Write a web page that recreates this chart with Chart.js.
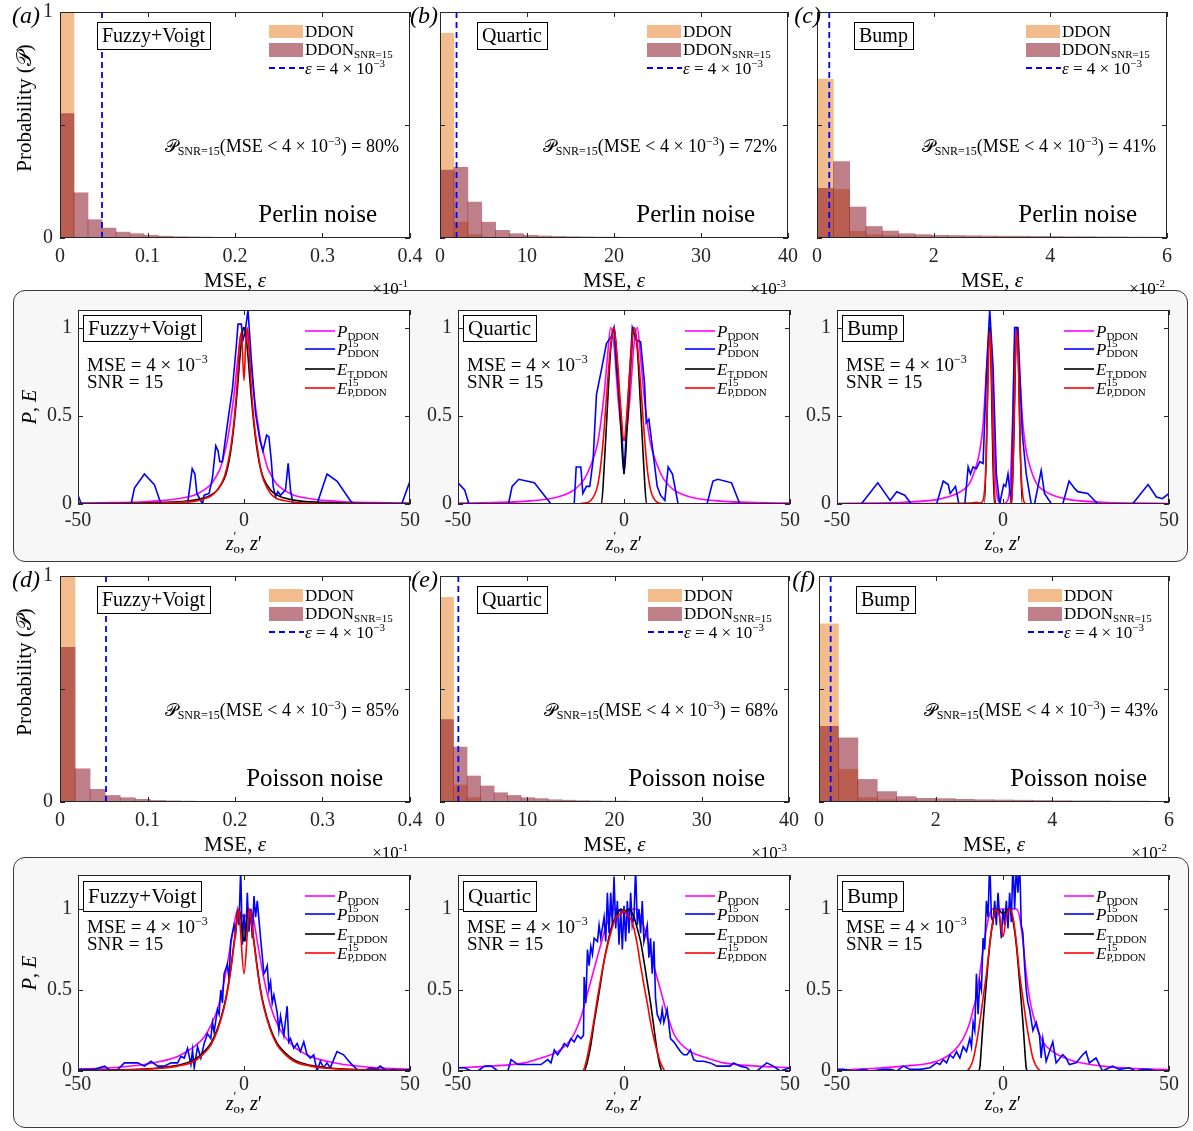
<!DOCTYPE html>
<html>
<head>
<meta charset="utf-8">
<script src="https://cdn.jsdelivr.net/npm/chart.js@4.4.1/dist/chart.umd.min.js"></script>
<style>
  body { margin: 0; background: #fff; width: 1193px; height: 1131px; position: relative; overflow: hidden; }
  canvas { position: absolute; }
  .frame { position: absolute; box-sizing: border-box; background: #f7f7f7; border: 1.5px solid #3a3a3a; border-radius: 12px; }
</style>
</head>
<body>
<div class="frame" style="left:13px;top:290px;width:1175px;height:272px"></div>
<div class="frame" style="left:13px;top:857px;width:1176px;height:271px"></div>
<script>
// ---- histogram data (probability per MSE bin) ----
const aOrange = [1.0, 0, 0, 0, 0, 0, 0, 0, 0, 0, 0, 0, 0, 0, 0, 0, 0, 0, 0, 0, 0, 0, 0, 0, 0];
const aMauve = [0.55, 0.20, 0.081, 0.044, 0.026, 0.019, 0.012, 0.008, 0.006, 0.005, 0.004, 0.003, 0.003, 0.002, 0.002, 0.002, 0.002, 0.001, 0.001, 0.001, 0.001, 0.001, 0.001, 0.001, 0.001];
const bOrange = [0.906, 0.07, 0.015, 0.004, 0.002, 0.001, 0, 0, 0, 0, 0, 0, 0, 0, 0, 0, 0, 0, 0, 0, 0, 0, 0, 0, 0];
const bMauve = [0.30, 0.313, 0.159, 0.07, 0.034, 0.019, 0.012, 0.009, 0.007, 0.006, 0.005, 0.004, 0.004, 0.003, 0.003, 0.002, 0.002, 0.002, 0.002, 0.001, 0.001, 0.001, 0.001, 0.001, 0.001];
const cOrange = [0.703, 0.215, 0.03, 0.015, 0.01, 0.006, 0.004, 0.003, 0.003, 0.002, 0.002, 0.001, 0.001, 0.001, 0.001, 0.001, 0, 0, 0, 0, 0];
const cMauve = [0.22, 0.338, 0.137, 0.051, 0.031, 0.019, 0.015, 0.012, 0.011, 0.01, 0.009, 0.008, 0.008, 0.007, 0.007, 0.006, 0.006, 0.005, 0.005, 0.004, 0.004];
const dOrange = [1.0, 0, 0, 0, 0, 0, 0, 0, 0, 0, 0, 0, 0, 0, 0, 0, 0, 0, 0, 0, 0, 0, 0];
const dMauve = [0.684, 0.147, 0.056, 0.029, 0.019, 0.012, 0.007, 0.005, 0.004, 0.003, 0.003, 0.002, 0.002, 0.002, 0.001, 0.001, 0.001, 0.001, 0.001, 0.001, 0.001, 0.001, 0.001];
const eOrange = [0.906, 0.075, 0.019, 0.003, 0.001, 0, 0, 0, 0, 0, 0, 0, 0, 0, 0, 0, 0, 0, 0, 0, 0, 0, 0, 0, 0, 0];
const eMauve = [0.365, 0.243, 0.115, 0.071, 0.041, 0.029, 0.019, 0.015, 0.01, 0.008, 0.006, 0.005, 0.004, 0.004, 0.003, 0.003, 0.002, 0.002, 0.002, 0.002, 0.001, 0.001, 0.001, 0.001, 0.001, 0.001];
const fOrange = [0.788, 0.144, 0.019, 0.01, 0.006, 0.004, 0.003, 0.002, 0.002, 0.001, 0.001, 0.001, 0, 0, 0, 0, 0, 0];
const fMauve = [0.335, 0.284, 0.10, 0.046, 0.024, 0.016, 0.015, 0.012, 0.01, 0.009, 0.008, 0.007, 0.006, 0.005, 0.005, 0.004, 0.004, 0.003];

const ticks01 = [0, 0.1, 0.2, 0.3, 0.4];
const ticks40 = [0, 10, 20, 30, 40];
const ticks6 = [0, 2, 4, 6];
const ticksZ = [-50, 0, 50];
const ticksP = [0, 0.5, 1];

// ---- profile data, Perlin noise row ([z, value]) ----
const g1Magenta = [[-50,0.005],[-40,0.008],[-30,0.013],[-25,0.019],[-20,0.03],[-15,0.05],[-12,0.08],[-10,0.11],[-8,0.17],[-7,0.21],[-6,0.28],[-5,0.36],[-4,0.48],[-3,0.62],[-2,0.8],[-1,0.95],[0,1.0],[1,0.95],[2,0.8],[3,0.62],[4,0.48],[5,0.36],[6,0.28],[7,0.21],[8,0.17],[10,0.11],[12,0.08],[15,0.05],[20,0.03],[25,0.019],[30,0.013],[40,0.008],[50,0.005]];
const g1Blue = [[-50,0.05],[-49,0],[-34,0],[-33,0.09],[-30,0.17],[-27,0.11],[-25,0],[-17,0],[-15.6,0.2],[-14.8,0.17],[-14.2,0.06],[-12.5,0],[-12,0.05],[-10.5,0.06],[-9.5,0.15],[-8.5,0.33],[-7.8,0.3],[-7.3,0.24],[-6.5,0.24],[-5.8,0.34],[-4.8,0.48],[-3.5,0.65],[-2.3,0.9],[-1.8,1.02],[-0.8,1.02],[-0.3,0.93],[0.3,0.97],[1.2,1.1],[2.2,0.82],[3.5,0.51],[4.8,0.36],[5.7,0.3],[6.8,0.39],[7.5,0.38],[8.2,0.25],[8.8,0.1],[9.5,0.04],[10.2,0.07],[11,0.05],[12.5,0.08],[13.3,0.23],[14,0.08],[14.8,0],[22,0],[25,0.17],[28,0.13],[32,0.02],[33,0],[47.5,0],[50,0.13]];
const g1Black = [[-50,0.002],[-30,0.006],[-20,0.012],[-15,0.022],[-12,0.035],[-10,0.05],[-8,0.08],[-6,0.14],[-5,0.2],[-4,0.3],[-3,0.45],[-2,0.65],[-1,0.88],[0,1.0],[1,0.88],[2,0.65],[3,0.45],[4,0.3],[5,0.2],[6,0.14],[8,0.08],[10,0.05],[12,0.035],[15,0.022],[20,0.012],[30,0.006],[50,0.002]];
const g1Red = [[-50,0],[-30,0.004],[-25,0.005],[-20,0.01],[-15,0.015],[-12,0.03],[-10,0.045],[-8,0.08],[-6,0.15],[-5,0.22],[-4,0.32],[-3,0.47],[-2,0.7],[-1.4,0.9],[-0.8,0.97],[0,0.7],[0.5,0.9],[1,1.0],[1.5,0.9],[2,0.72],[3,0.47],[4,0.32],[5,0.2],[6,0.13],[8,0.06],[10,0.03],[12,0.02],[15,0.01],[20,0.005],[30,0.002],[50,0]];

const g2Magenta = [[-50,0.005],[-40,0.008],[-30,0.015],[-20,0.04],[-15,0.08],[-12,0.14],[-10,0.22],[-8,0.34],[-7,0.46],[-6,0.62],[-5,0.83],[-4,1.0],[-3,0.9],[-2,0.65],[-1,0.45],[0,0.36],[1,0.45],[2,0.65],[3,0.9],[4,1.0],[5,0.83],[6,0.62],[7,0.46],[8,0.34],[10,0.22],[12,0.14],[15,0.08],[20,0.04],[30,0.015],[40,0.008],[50,0.005]];
const g2Blue = [[-50,0.12],[-48,0.08],[-46.7,0],[-34.8,0],[-33.7,0.1],[-31.7,0.14],[-27,0.12],[-22,0],[-15,0],[-14.4,0.21],[-13,0.21],[-12.4,0.06],[-11.3,0.1],[-10.3,0.1],[-9.3,0.25],[-8.3,0.62],[-6.8,0.76],[-5.3,0.91],[-3.8,0.95],[-3,1.0],[-2.3,0.78],[-1,0.53],[0,0.17],[1.2,0.59],[2.5,1.0],[3.7,0.93],[5,0.92],[6.2,0.68],[6.7,0.46],[7.5,0.48],[8.7,0.3],[10,0.1],[11,0.05],[12.3,0.02],[13.3,0.21],[14.6,0.17],[16.3,0],[25,0],[26.8,0.13],[28.3,0.14],[32.4,0.12],[34.9,0],[50,0]];
const g2Black = [[-50,0],[-6.8,0],[-6,0.2],[-5,0.55],[-4,0.88],[-3,1.0],[-2,0.78],[-1,0.45],[0,0.17],[1,0.45],[2,0.78],[3,1.0],[4,0.88],[5,0.55],[6,0.2],[6.8,0],[50,0]];
const g2Red = [[-50,0],[-15,0],[-12,0.005],[-10,0.02],[-8,0.1],[-7,0.22],[-6,0.42],[-5,0.68],[-4,0.9],[-3,1.0],[-2,0.82],[-1,0.55],[0,0.36],[1,0.55],[2,0.82],[3,1.0],[4,0.9],[5,0.68],[6,0.42],[7,0.2],[8,0.08],[9,0.03],[10,0.01],[12,0],[50,0]];

const g3Magenta = [[-50,0.003],[-40,0.005],[-30,0.01],[-20,0.025],[-15,0.05],[-12,0.08],[-10,0.12],[-8,0.22],[-7,0.3],[-6,0.45],[-5,0.75],[-4,1.0],[-3.5,0.9],[-3,0.55],[-2.5,0.25],[-2,0.08],[-1,0.01],[0,0],[1,0.01],[2,0.08],[2.5,0.25],[3,0.55],[3.5,0.9],[4,1.0],[5,0.75],[6,0.45],[7,0.3],[8,0.22],[10,0.12],[12,0.08],[15,0.05],[20,0.025],[30,0.01],[40,0.005],[50,0.003]];
const g3Blue = [[-50,0],[-42.7,0],[-37.7,0.12],[-34,0.02],[-32,0.07],[-29.6,0.05],[-27.6,0],[-20,0],[-18,0.13],[-16.5,0.11],[-15.9,0.06],[-14.3,0.1],[-13.3,0],[-11.5,0],[-10.5,0.21],[-9.8,0.17],[-9,0.21],[-8,0.2],[-7,0.24],[-6,0.23],[-5,0.74],[-4,1.1],[-3,0.78],[-2,0.17],[-1,0],[0.2,0.11],[0.8,0.1],[1.5,0.17],[2.5,0],[3.5,1.0],[4.5,1.0],[5.8,0.4],[7,0.17],[8.5,0],[9.5,0],[11.5,0.19],[12.5,0.06],[14.6,0],[18,0],[19.9,0.13],[21.5,0.09],[22.5,0.07],[25.5,0.06],[28.6,0],[39,0],[43.7,0.11],[46.2,0.04],[48,0.03],[50,0.06]];
const g3Black = [[-50,0],[-5.6,0],[-4,1.0],[-2.6,0],[2.6,0],[4.2,1.0],[5.8,0],[50,0]];
const g3Red = [[-50,0],[-10,0.005],[-8,0.01],[-7,0.005],[-6,0.02],[-5,0.3],[-4.5,0.75],[-4,0.98],[-3.5,0.8],[-3,0.35],[-2.5,0.05],[-2,0],[2,0],[2.7,0.05],[3.2,0.35],[3.7,0.8],[4.2,0.98],[4.7,0.75],[5.2,0.3],[6.2,0.02],[7,0],[50,0]];

// ---- profile data, Poisson noise row ----
const h1Magenta = [[-50,0.01],[-40,0.02],[-30,0.04],[-25,0.06],[-20,0.09],[-15,0.15],[-12,0.21],[-10,0.28],[-8,0.38],[-6,0.55],[-4,0.78],[-3,0.9],[-2,0.99],[-1,0.97],[0,0.95],[1,0.97],[2,1.0],[3,0.92],[4,0.8],[6,0.57],[8,0.4],[10,0.29],[12,0.22],[15,0.15],[20,0.09],[25,0.06],[30,0.04],[40,0.02],[50,0.01]];
const h1Blue = [[-50,0.01],[-47,0.01],[-45,0.01],[-42,0.03],[-40,0],[-38,0.01],[-36,0.05],[-32,0.05],[-30,0.03],[-28,0.06],[-26,0.03],[-24,0.03],[-22,0.05],[-20,0.05],[-19,0.09],[-18,0.08],[-17,0.14],[-16,0.04],[-15.5,0.13],[-15,0.02],[-14,0.15],[-13,0.08],[-12,0.17],[-11,0.23],[-10,0.2],[-9.5,0.3],[-9,0.24],[-8,0.38],[-7.5,0.35],[-7,0.5],[-6.5,0.42],[-6,0.6],[-5,0.66],[-4.5,0.56],[-4,0.8],[-3,0.9],[-2.5,0.85],[-2,0.98],[-1.5,0.9],[-1,1.25],[-0.5,0.78],[0,0.97],[0.5,0.8],[1,1.1],[1.5,0.86],[2,1.0],[2.5,0.82],[3,1.08],[3.5,0.95],[4,1.05],[5,0.82],[6,0.6],[6.5,0.62],[7,0.65],[7.5,0.5],[8,0.55],[8.5,0.42],[9,0.47],[10,0.36],[10.5,0.25],[11,0.34],[12,0.22],[13,0.4],[13.5,0.18],[14,0.2],[15,0.14],[16,0.17],[17,0.12],[18,0.18],[19,0.1],[20,0.08],[21,0.1],[22,0],[23,0.06],[24,0.02],[25,0.05],[26,0.02],[28,0.12],[30,0.1],[32,0.05],[34,0.01],[36,0],[38,0.02],[40,0.01],[41,0.03],[43,0],[45,0.01],[47,0],[50,0.01]];
const h1Black = [[-50,0.003],[-40,0.006],[-30,0.012],[-25,0.02],[-20,0.035],[-15,0.07],[-12,0.12],[-10,0.17],[-8,0.26],[-6,0.4],[-5,0.5],[-4,0.63],[-3,0.79],[-2,0.95],[-1.5,1.0],[-1,0.95],[0,0.8],[1,0.95],[1.5,1.0],[2,0.96],[3,0.8],[4,0.64],[5,0.5],[6,0.4],[8,0.26],[10,0.17],[12,0.12],[15,0.07],[20,0.035],[25,0.02],[30,0.012],[40,0.006],[50,0.003]];
const h1Red = [[-50,0.002],[-40,0.004],[-30,0.01],[-25,0.017],[-20,0.03],[-15,0.06],[-12,0.11],[-10,0.16],[-8,0.25],[-6,0.39],[-5,0.49],[-4,0.62],[-3,0.78],[-2,0.95],[-1.5,1.0],[-1,0.85],[0,0.6],[1,0.85],[1.5,1.0],[2,0.96],[3,0.79],[4,0.63],[5,0.49],[6,0.39],[8,0.25],[10,0.16],[12,0.11],[15,0.06],[20,0.03],[25,0.017],[30,0.01],[40,0.004],[50,0.002]];

const h2Magenta = [[-50,0.02],[-40,0.03],[-30,0.05],[-25,0.08],[-20,0.12],[-17,0.17],[-15,0.23],[-13,0.33],[-11,0.48],[-9,0.63],[-7,0.78],[-5,0.92],[-3,1.0],[-1,0.99],[0,0.97],[1,0.98],[3,1.0],[4,1.0],[5,0.95],[7,0.82],[9,0.65],[11,0.5],[13,0.35],[15,0.23],[17,0.17],[20,0.12],[25,0.08],[30,0.05],[40,0.03],[50,0.02]];
const h2Blue = [[-50,0.02],[-48,0.02],[-46,0],[-44,0],[-42,0.03],[-40,0.03],[-38,0],[-35,0],[-34,0.07],[-32,0.04],[-28,0.04],[-25,0.04],[-23,0.07],[-22,0.05],[-21,0.13],[-20,0.1],[-19,0.13],[-18,0.17],[-17,0.15],[-16,0.2],[-15,0.18],[-14,0.22],[-13,0.2],[-12.2,0.22],[-12,0.58],[-11.5,0.42],[-11,0.75],[-10.5,0.65],[-10,0.77],[-9.5,0.72],[-9,0.82],[-8,0.8],[-7.5,0.9],[-7,0.82],[-6,0.95],[-5.5,0.8],[-5,1.1],[-4.5,0.85],[-4,1.1],[-3.5,0.9],[-3,1.2],[-2.5,0.88],[-2,1.05],[-1.5,0.78],[-1,1.0],[-0.5,0.75],[0,1.02],[0.5,0.8],[1,1.05],[1.5,0.85],[2,1.1],[2.5,0.9],[3,0.95],[3.5,1.25],[4,0.9],[4.5,1.0],[5,0.85],[5.5,1.05],[6,0.8],[7,0.9],[7.5,0.7],[8,0.82],[8.5,0.6],[9,0.8],[9.5,0.45],[10,0.35],[11,0.3],[11.5,0.38],[12,0.3],[13,0.38],[14,0.2],[15,0.18],[16,0.15],[17,0.12],[18,0.1],[19,0.1],[20,0.13],[21,0.07],[22,0.06],[24,0.06],[26,0.05],[28,0.03],[30,0.03],[32,0.03],[33,0.05],[35,0.03],[37,0.02],[38,0],[40,0],[43,0.05],[45,0.03],[47,0],[50,0.02]];
const h2Black = [[-50,0],[-12,0],[-11,0.06],[-10,0.16],[-9,0.3],[-8,0.42],[-7,0.55],[-6,0.68],[-5,0.78],[-4,0.87],[-3,0.93],[-2,0.97],[-1,1.0],[0,0.99],[1,0.99],[1.5,1.0],[2,0.99],[3,0.95],[4,0.88],[5,0.8],[6,0.68],[7,0.55],[8,0.42],[9,0.27],[10,0.12],[11,0.02],[11.5,0],[50,0]];
const h2Red = [[-50,0],[-12.5,0],[-11.5,0.05],[-10,0.2],[-9,0.32],[-8,0.45],[-7,0.57],[-6,0.68],[-5,0.77],[-4,0.85],[-3,0.92],[-2,0.96],[-1,0.97],[0,0.99],[1,0.96],[2,0.94],[3,0.88],[4,0.78],[5,0.65],[6,0.53],[7,0.42],[8,0.3],[9,0.2],[10,0.12],[11,0.05],[12,0.01],[12.5,0],[50,0]];

const h3Magenta = [[-50,0.005],[-40,0.015],[-30,0.03],[-20,0.06],[-15,0.12],[-12,0.2],[-10,0.3],[-9,0.38],[-8,0.46],[-7,0.6],[-6,0.75],[-5,0.88],[-4,0.97],[-3,1.0],[-2,1.0],[0,1.0],[2,1.0],[3,1.0],[4,1.0],[5,0.95],[6,0.8],[7,0.6],[8,0.45],[9,0.35],[10,0.28],[12,0.18],[15,0.12],[20,0.07],[30,0.03],[40,0.015],[50,0.008]];
const h3Blue = [[-50,0.01],[-48,0.01],[-45,0],[-42,0.01],[-40,0],[-36,0.01],[-34,0.01],[-32,0],[-30,0.03],[-28,0.01],[-25,0.01],[-22,0.02],[-20,0.05],[-19,0.04],[-18,0.07],[-17,0.05],[-16,0.1],[-15,0.08],[-14,0.12],[-13,0.08],[-12,0.15],[-11,0.12],[-10,0.2],[-9.5,0.15],[-9,0.3],[-8.5,0.25],[-8,0.6],[-7.5,0.35],[-7,0.55],[-6.5,0.5],[-6,0.82],[-5.5,0.75],[-5,1.05],[-4.5,0.95],[-4,1.3],[-3.5,0.95],[-3,0.92],[-2.5,1.05],[-2,0.9],[-1.5,1.1],[-1,0.95],[-0.5,0.82],[0,1.0],[0.5,0.9],[1,1.05],[1.5,0.88],[2,1.1],[2.5,0.92],[3,1.3],[3.5,1.0],[4,1.25],[4.5,1.1],[5,1.3],[5.5,0.9],[6,0.85],[6.5,0.65],[7,0.5],[7.5,0.42],[8,0.38],[9,0.25],[10,0.3],[11,0.22],[11.5,0.08],[12,0.2],[13,0.06],[14,0.12],[15,0.18],[16,0.05],[18,0.1],[19,0.08],[20,0.04],[22,0.05],[24,0.1],[25,0.12],[26,0.05],[28,0.08],[30,0],[32,0.02],[33,0.03],[35,0.01],[38,0.02],[40,0],[42,0.01],[44,0.01],[46,0],[50,0]];
const h3Black = [[-50,0],[-7.5,0],[-7,0.02],[-6.5,0.15],[-6,0.3],[-5,0.55],[-4,0.78],[-3,0.93],[-2,1.0],[-1,0.99],[0,0.97],[1,0.99],[2,1.0],[3,0.93],[4,0.78],[5,0.55],[6,0.3],[6.5,0.15],[7,0.02],[7.5,0],[50,0]];
const h3Red = [[-50,0],[-11,0],[-10,0.02],[-9,0.07],[-8,0.17],[-7,0.3],[-6,0.45],[-5,0.6],[-4,0.78],[-3,0.93],[-2,1.0],[-1,0.95],[0,0.83],[1,0.95],[2,1.0],[3,0.95],[4,0.8],[5,0.6],[6,0.45],[7,0.3],[8,0.18],[9,0.08],[10,0.03],[11,0.005],[12,0],[50,0]];

// ---- styling ----
const SERIF = '"Liberation Serif", "DejaVu Serif", serif';
const AXIS = '#262626';
const PEACH = 'rgb(243,188,140)';
const MAUVE = 'rgba(127,0,20,0.5)';
const MAUVE_KEY = 'rgb(191,128,138)';
const BLUE = '#0000ff';
const MAGENTA = '#ff00ff';
const RED = '#ff0000';

const decorations = {};

function font(size, italic) {
  return (italic ? 'italic ' : '') + size + 'px ' + SERIF;
}

// draws a run of text pieces: n = normal, i = italic, sub, sup, ss = [sup, sub] stacked
function rich(ctx, parts, x, y, size, align) {
  const sm = Math.round(size * 0.64);
  const items = parts.map(([k, t]) => {
    if (k === 'ss') {
      ctx.font = font(sm);
      return { k, t, w: Math.max(ctx.measureText(t[0]).width, ctx.measureText(t[1]).width) };
    }
    ctx.font = (k === 'sub' || k === 'sup') ? font(sm) : font(size, k === 'i');
    return { k, t, w: ctx.measureText(t).width };
  });
  const total = items.reduce((s, it) => s + it.w, 0);
  let cx = align === 'right' ? x - total : align === 'center' ? x - total / 2 : x;
  ctx.textAlign = 'left';
  ctx.textBaseline = 'alphabetic';
  for (const it of items) {
    if (it.k === 'ss') {
      ctx.font = font(sm);
      ctx.fillText(it.t[0], cx, y - size * 0.5);
      ctx.fillText(it.t[1], cx, y + size * 0.14);
    } else if (it.k === 'sub') {
      ctx.font = font(sm);
      ctx.fillText(it.t, cx, y + size * 0.16);
    } else if (it.k === 'sup') {
      ctx.font = font(sm);
      ctx.fillText(it.t, cx, y - size * 0.4);
    } else {
      ctx.font = font(size, it.k === 'i');
      ctx.fillText(it.t, cx, y);
    }
    cx += it.w;
  }
  return total;
}

function rotated(ctx, parts, x, y, size) {
  ctx.save();
  ctx.translate(x, y);
  ctx.rotate(-Math.PI / 2);
  rich(ctx, parts, 0, 0, size, 'center');
  ctx.restore();
}

function boxLabel(ctx, text, x, y, h, size) {
  ctx.font = font(size);
  const w = Math.round(ctx.measureText(text).width + 10);
  ctx.fillStyle = '#fff';
  ctx.fillRect(x, y, w, h);
  ctx.strokeStyle = '#000';
  ctx.lineWidth = 1;
  ctx.strokeRect(x + 0.5, y + 0.5, w, h);
  ctx.fillStyle = '#000';
  ctx.fillText(text, x + 5, y + h / 2 + size * 0.33);
}

const framePlugin = {
  id: 'frame',
  beforeDraw(chart) {
    const a = chart.chartArea, ctx = chart.ctx;
    ctx.save();
    ctx.fillStyle = '#fff';
    ctx.fillRect(a.left, a.top, a.right - a.left, a.bottom - a.top);
    ctx.restore();
  },
  afterDraw(chart) {
    const a = chart.chartArea, ctx = chart.ctx;
    ctx.save();
    ctx.strokeStyle = AXIS;
    ctx.lineWidth = 1;
    ctx.strokeRect(a.left + 0.5, a.top + 0.5, a.right - a.left - 1, a.bottom - a.top - 1);
    ctx.beginPath();
    chart.scales.x.ticks.forEach(t => {
      const px = Math.round(chart.scales.x.getPixelForValue(t.value)) + 0.5;
      ctx.moveTo(px, a.bottom); ctx.lineTo(px, a.bottom - 5);
      ctx.moveTo(px, a.top); ctx.lineTo(px, a.top + 5);
    });
    chart.scales.y.ticks.forEach(t => {
      const py = Math.round(chart.scales.y.getPixelForValue(t.value)) + 0.5;
      ctx.moveTo(a.left, py); ctx.lineTo(a.left + 5, py);
      ctx.moveTo(a.right, py); ctx.lineTo(a.right - 5, py);
    });
    ctx.stroke();
    ctx.fillStyle = '#000';
    const fn = decorations[chart.canvas.id];
    if (fn) fn(ctx, a);
    ctx.restore();
  }
};
Chart.register(framePlugin);

function makeCanvas(id, p, PL, PR, PT, PB) {
  const cv = document.createElement('canvas');
  cv.id = id;
  cv.width = p.x1 - p.x0 + PL + PR;
  cv.height = p.y1 - p.y0 + PT + PB;
  cv.style.left = (p.x0 - PL) + 'px';
  cv.style.top = (p.y0 - PT) + 'px';
  document.body.appendChild(cv);
  return cv;
}

function axisOpts(tickVals, size, pad, extent, isX, label) {
  return {
    type: 'linear',
    offset: false,
    grid: { display: false, drawTicks: false },
    border: { display: false },
    afterBuildTicks: s => { s.ticks = tickVals.map(v => ({ value: v })); },
    afterFit: s => {
      if (isX) s.height = extent; else s.width = extent;
      // keep the plot box exactly where it is placed
      s.paddingTop = 0; s.paddingBottom = 0; s.paddingLeft = 0; s.paddingRight = 0;
    },
    ticks: { font: { family: SERIF, size: size }, color: AXIS, padding: pad, maxRotation: 0, autoSkip: false, callback: label }
  };
}

function histChart(id, p) {
  const PL = 60, PR = 25, PT = 12, PB = 62;
  const cv = makeCanvas(id, p, PL, PR, PT, PB);
  decorations[id] = histDeco(p);
  const centers = p.orange.map((_, i) => (i + 0.5) * p.bin);
  const x = axisOpts(p.xticks, 20, 7, PB, true, v => String(v));
  x.min = 0; x.max = p.xmax;
  const y = axisOpts(ticksP, 20, 7, PL, false, v => (p.showY && v !== 0.5) ? String(v) : '');
  y.min = 0; y.max = 1;
  new Chart(cv, {
    type: 'bar',
    data: {
      datasets: [
        { type: 'line', data: [{ x: p.eps, y: 0 }, { x: p.eps, y: 1 }], borderColor: BLUE, borderWidth: 1.8, borderDash: [6, 4], pointRadius: 0, order: 0 },
        { data: centers.map((c, i) => ({ x: c, y: p.mauve[i] })), backgroundColor: MAUVE, order: 1 },
        { data: centers.map((c, i) => ({ x: c, y: p.orange[i] })), backgroundColor: PEACH, order: 2 }
      ]
    },
    options: {
      responsive: false, animation: false, devicePixelRatio: 1,
      layout: { padding: { top: PT, right: PR, left: 0, bottom: 0 } },
      datasets: { bar: { barPercentage: 1, categoryPercentage: 1, grouped: false, borderWidth: 0 } },
      plugins: { legend: { display: false }, tooltip: { enabled: false } },
      scales: { x, y }
    }
  });
}

function histDeco(o) {
  return (ctx, a) => {
    ctx.fillStyle = '#000';
    rich(ctx, [['i', '(' + o.letter + ')']], a.left + o.lx, a.top + 11, 24, 'right');
    boxLabel(ctx, o.name, a.left + 37, a.top + 10, 27, 20);
    const lx = a.right - 141, tx = a.right - 105;
    ctx.fillStyle = PEACH; ctx.fillRect(lx, a.top + 13, 34, 13);
    ctx.fillStyle = MAUVE_KEY; ctx.fillRect(lx, a.top + 31, 34, 14);
    ctx.strokeStyle = BLUE; ctx.lineWidth = 1.8; ctx.setLineDash([6, 4]);
    ctx.beginPath(); ctx.moveTo(lx, a.top + 56); ctx.lineTo(lx + 35, a.top + 56); ctx.stroke();
    ctx.setLineDash([]);
    ctx.fillStyle = '#000';
    rich(ctx, [['n', 'DDON']], tx, a.top + 25, 17);
    rich(ctx, [['n', 'DDON'], ['sub', 'SNR=15']], tx, a.top + 43, 17);
    rich(ctx, [['i', 'ε'], ['n', ' = 4 × 10'], ['sup', '−3']], tx, a.top + 62, 17);
    rich(ctx, [['n', '𝒫'], ['sub', 'SNR=15'], ['n', '(MSE < 4 × 10'], ['sup', '−3'], ['n', ') = ' + o.pct + '%']], a.right - 11, a.top + 140, 18, 'right');
    rich(ctx, [['n', o.noise]], a.right - o.nx, a.top + 210, 25, 'right');
    rich(ctx, [['n', 'MSE, '], ['i', 'ε']], (a.left + a.right) / 2, a.bottom + 49, 21, 'center');
    rich(ctx, [['n', '×10'], ['sup', o.exp]], a.right - 2, a.bottom + 56, 17, 'right');
    if (o.showY) rotated(ctx, [['n', 'Probability ('], ['n', '𝒫'], ['n', ')']], a.left - 29, a.top + 96, 21);
  };
}

function lineChart(id, p) {
  const PL = 60, PR = 25, PT = 12, PB = 52;
  const cv = makeCanvas(id, p, PL, PR, PT, PB);
  decorations[id] = lineDeco(p);
  const x = axisOpts(ticksZ, 20, p.tpad, PB, true, v => String(v));
  x.min = -50; x.max = 50;
  const y = axisOpts(ticksP, 20, 6, PL, false, v => String(v));
  y.min = 0; y.max = p.ymax;
  const ds = (pts, color, order, smooth) => ({
    data: pts.map(([px, py]) => ({ x: px, y: py })),
    borderColor: color, borderWidth: 1.6, pointRadius: 0, order,
    cubicInterpolationMode: smooth ? 'monotone' : 'default', tension: 0
  });
  new Chart(cv, {
    type: 'line',
    data: {
      datasets: [
        ds(p.magenta, MAGENTA, 3, true),
        ds(p.blue, BLUE, 2, false),
        ds(p.black, '#000', 1, true),
        ds(p.red, RED, 0, true)
      ]
    },
    options: {
      responsive: false, animation: false, devicePixelRatio: 1,
      layout: { padding: { top: PT, right: PR, left: 0, bottom: 0 } },
      plugins: { legend: { display: false }, tooltip: { enabled: false } },
      scales: { x, y }
    }
  });
}

function lineDeco(o) {
  return (ctx, a) => {
    boxLabel(ctx, o.name, a.left + 5, a.top + o.by, o.bh, 21);
    rich(ctx, [['n', 'MSE = 4 × 10'], ['sup', '−3']], a.left + 9, a.top + o.my, 19);
    rich(ctx, [['n', 'SNR = 15']], a.left + 9, a.top + o.my + 17, 19);
    const rows = [
      [MAGENTA, [['i', 'P'], ['sub', 'DDON']]],
      [BLUE, [['i', 'P'], ['ss', ['15', 'DDON']]]],
      ['#000', [['i', 'E'], ['sub', 'T,DDON']]],
      [RED, [['i', 'E'], ['ss', ['15', 'P,DDON']]]]
    ];
    const offs = [21, 39, 59, 78];
    rows.forEach(([c, parts], i) => {
      const yy = a.top + offs[i];
      ctx.strokeStyle = c; ctx.lineWidth = 1.6;
      ctx.beginPath(); ctx.moveTo(a.right - 105, yy); ctx.lineTo(a.right - 75, yy); ctx.stroke();
      ctx.fillStyle = '#000';
      rich(ctx, parts, a.right - 73, yy + 6, 17);
    });
    ctx.fillStyle = '#000';
    rich(ctx, [['i', 'z'], ['ss', ['′', 'o']], ['n', ', '], ['i', 'z'], ['n', '′']], (a.left + a.right) / 2, a.bottom + o.xl, 20, 'center');
    if (o.showY) rotated(ctx, [['i', 'P'], ['n', ', '], ['i', 'E']], a.left - 42, (a.top + a.bottom) / 2, 20);
  };
}

// ---- histogram panels ----
histChart('ha', { x0: 60, x1: 410, y0: 12, y1: 238, orange: aOrange, mauve: aMauve, bin: 0.016, xmax: 0.4, xticks: ticks01, eps: 0.048,
  letter: 'a', lx: -20, name: 'Fuzzy+Voigt', pct: 80, noise: 'Perlin noise', nx: 33, exp: '-1', showY: true });
histChart('hb', { x0: 440, x1: 788, y0: 12, y1: 238, orange: bOrange, mauve: bMauve, bin: 1.6, xmax: 40, xticks: ticks40, eps: 1.9,
  letter: 'b', lx: -2, name: 'Quartic', pct: 72, noise: 'Perlin noise', nx: 33, exp: '-3', showY: false });
histChart('hc', { x0: 817, x1: 1167, y0: 12, y1: 238, orange: cOrange, mauve: cMauve, bin: 0.28, xmax: 6, xticks: ticks6, eps: 0.21,
  letter: 'c', lx: 4, name: 'Bump', pct: 41, noise: 'Perlin noise', nx: 30, exp: '-2', showY: false });
histChart('hd', { x0: 60, x1: 410, y0: 576, y1: 802, orange: dOrange, mauve: dMauve, bin: 0.0172, xmax: 0.4, xticks: ticks01, eps: 0.0526,
  letter: 'd', lx: -20, name: 'Fuzzy+Voigt', pct: 85, noise: 'Poisson noise', nx: 27, exp: '-1', showY: true });
histChart('he', { x0: 440, x1: 789, y0: 576, y1: 802, orange: eOrange, mauve: eMauve, bin: 1.55, xmax: 40, xticks: ticks40, eps: 2.1,
  letter: 'e', lx: -2, name: 'Quartic', pct: 68, noise: 'Poisson noise', nx: 24, exp: '-3', showY: false });
histChart('hf', { x0: 819, x1: 1169, y0: 576, y1: 802, orange: fOrange, mauve: fMauve, bin: 0.333, xmax: 6, xticks: ticks6, eps: 0.2,
  letter: 'f', lx: -4, name: 'Bump', pct: 43, noise: 'Poisson noise', nx: 22, exp: '-2', showY: false });

// ---- profile panels ----
const row1 = { y0: 310, y1: 504, ymax: 1.1, by: 5, bh: 26, my: 61, xl: 46, tpad: 5 };
const row2 = { y0: 875, y1: 1071, ymax: 1.21, by: 6, bh: 30, my: 58, xl: 39, tpad: 2 };
lineChart('pa', Object.assign({ x0: 78, x1: 410, name: 'Fuzzy+Voigt', showY: true, magenta: g1Magenta, blue: g1Blue, black: g1Black, red: g1Red }, row1));
lineChart('pb', Object.assign({ x0: 458, x1: 790, name: 'Quartic', showY: false, magenta: g2Magenta, blue: g2Blue, black: g2Black, red: g2Red }, row1));
lineChart('pc', Object.assign({ x0: 837, x1: 1169, name: 'Bump', showY: false, magenta: g3Magenta, blue: g3Blue, black: g3Black, red: g3Red }, row1));
lineChart('pd', Object.assign({ x0: 78, x1: 410, name: 'Fuzzy+Voigt', showY: true, magenta: h1Magenta, blue: h1Blue, black: h1Black, red: h1Red }, row2));
lineChart('pe', Object.assign({ x0: 458, x1: 790, name: 'Quartic', showY: false, magenta: h2Magenta, blue: h2Blue, black: h2Black, red: h2Red }, row2));
lineChart('pf', Object.assign({ x0: 837, x1: 1169, name: 'Bump', showY: false, magenta: h3Magenta, blue: h3Blue, black: h3Black, red: h3Red }, row2));
</script>
</body>
</html>
